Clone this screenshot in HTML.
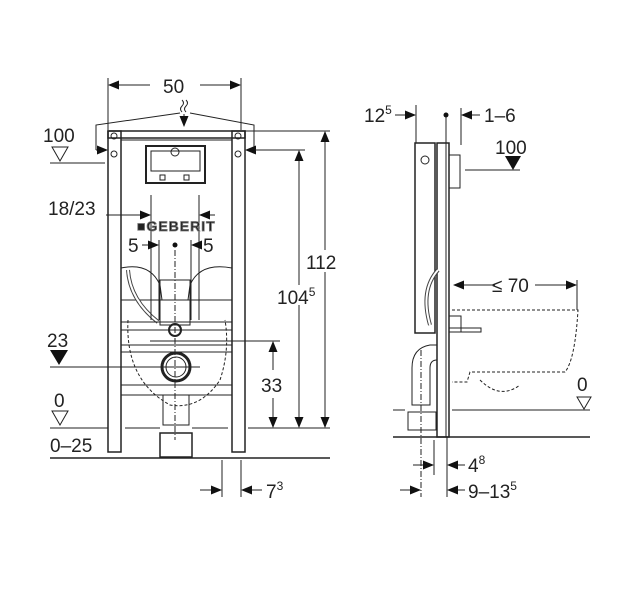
<!DOCTYPE html>
<html><head><style>
html,body{margin:0;padding:0;background:#fff;}
svg{display:block;}
text{font-family:"Liberation Sans",sans-serif;fill:#222;}
</style></head><body>
<svg width="620" height="597" viewBox="0 0 620 597" xmlns="http://www.w3.org/2000/svg">
<defs>
<marker id="ar" markerWidth="11" markerHeight="9" refX="10" refY="4.5" orient="auto" markerUnits="userSpaceOnUse"><path d="M0,0 L11,4.5 L0,9z" fill="#111"/></marker>
</defs>
<g stroke="#222" stroke-width="1" fill="none">
<!-- LEFT VIEW -->
<line x1="108" y1="78" x2="108" y2="130"/><line x1="241" y1="78" x2="241" y2="130"/>
<line x1="150" y1="85" x2="109" y2="85" marker-end="url(#ar)"/><line x1="200" y1="85" x2="240" y2="85" marker-end="url(#ar)"/>
<polyline points="96,150 96,125 180,113"/><polyline points="190,113 254,125 254,150"/>
<line x1="96" y1="150" x2="107" y2="150" marker-end="url(#ar)"/>
<line x1="265" y1="150" x2="246" y2="150" marker-end="url(#ar)"/>
<path d="M182,100 q3,3 0,6 q-3,3 0,6 M186,100 q3,3 0,6 q-3,3 0,6"/>
<line x1="184" y1="114" x2="184" y2="126" marker-end="url(#ar)"/>
<polygon points="52,147 68,147 60,161"/>
<line x1="50" y1="163" x2="105" y2="163"/>
<rect x="108" y="131" width="137" height="7" stroke-width="1.5"/>
<rect x="108" y="131" width="13" height="321" stroke-width="1.5"/>
<rect x="232" y="131" width="13" height="321" stroke-width="1.5"/>
<rect x="121" y="140" width="111" height="160"/>
<circle cx="114" cy="136" r="3"/><circle cx="114" cy="154" r="3"/><circle cx="238" cy="136" r="3"/><circle cx="238" cy="154" r="3"/>
<rect x="146" y="146" width="59" height="37" stroke-width="2"/>
<rect x="151" y="151" width="49" height="20"/>
<circle cx="175" cy="152" r="4"/>
<rect x="160" y="175" width="5" height="5"/><rect x="184" y="175" width="5" height="5"/>
<path d="M121,268 Q150,262 160,285 L162,300 M232,268 Q200,262 190,285 L188,300"/>
<path d="M128,270 Q130,300 158,322" stroke-width="4" stroke="#444"/>
<path d="M128,270 Q130,300 158,322" stroke-width="2" stroke="#fff"/>
<rect x="160" y="280" width="30" height="45"/>
<line x1="121" y1="322" x2="232" y2="322"/><line x1="121" y1="330" x2="232" y2="330"/>
<line x1="121" y1="345" x2="232" y2="345"/><line x1="121" y1="352" x2="232" y2="352"/>
<line x1="121" y1="385" x2="232" y2="385"/><line x1="121" y1="395" x2="232" y2="395"/>
<circle cx="175" cy="330" r="6" stroke-width="2"/>
<circle cx="176" cy="367" r="14" stroke-width="3"/><circle cx="176" cy="367" r="10"/>
<path d="M128,320 Q125,380 170,405 Q200,410 220,380 Q230,350 225,320" stroke-dasharray="3,2"/>
<rect x="163" y="395" width="26" height="30"/>
<rect x="160" y="433" width="32" height="24" stroke-width="1.5"/>
<line x1="151" y1="195" x2="151" y2="320"/><line x1="199" y1="195" x2="199" y2="320"/>
<line x1="159" y1="240" x2="159" y2="320"/><line x1="191" y1="240" x2="191" y2="320"/>
<line x1="175" y1="250" x2="175" y2="440" stroke-dasharray="6,2,1,2"/>
<line x1="106" y1="215" x2="150" y2="215" marker-end="url(#ar)"/>
<line x1="215" y1="215" x2="200" y2="215" marker-end="url(#ar)"/>
<line x1="142" y1="245" x2="158" y2="245" marker-end="url(#ar)"/>
<line x1="200" y1="245" x2="192" y2="245" marker-end="url(#ar)"/>
<line x1="150" y1="341" x2="280" y2="341"/>
<line x1="50" y1="367" x2="200" y2="367"/>
<line x1="50" y1="428" x2="108" y2="428"/><line x1="125" y1="428" x2="160" y2="428"/><line x1="192" y1="428" x2="228" y2="428"/><line x1="248" y1="428" x2="330" y2="428"/>
<line x1="50" y1="458" x2="330" y2="458" stroke-width="1.5"/>
<polygon points="52,411 68,411 60,425"/>
<line x1="245" y1="131" x2="330" y2="131"/><line x1="255" y1="150" x2="305" y2="150"/>
<line x1="325" y1="250" x2="325" y2="132" marker-end="url(#ar)"/>
<line x1="299" y1="285" x2="299" y2="151" marker-end="url(#ar)"/>
<line x1="273" y1="370" x2="273" y2="342" marker-end="url(#ar)"/>
<line x1="273" y1="398" x2="273" y2="427" marker-end="url(#ar)"/>
<line x1="299" y1="305" x2="299" y2="427" marker-end="url(#ar)"/>
<line x1="325" y1="272" x2="325" y2="427" marker-end="url(#ar)"/>
<line x1="222" y1="460" x2="222" y2="497"/><line x1="241" y1="460" x2="241" y2="497"/>
<line x1="200" y1="490" x2="221" y2="490" marker-end="url(#ar)"/>
<line x1="262" y1="490" x2="242" y2="490" marker-end="url(#ar)"/>

<!-- RIGHT VIEW -->
<line x1="416" y1="105" x2="416" y2="143"/><line x1="446" y1="115" x2="446" y2="143"/><line x1="461" y1="108" x2="461" y2="145"/>
<line x1="395" y1="115" x2="415" y2="115" marker-end="url(#ar)"/>
<line x1="480" y1="115" x2="462" y2="115" marker-end="url(#ar)"/>
<rect x="415" y="143" width="20" height="190" stroke-width="1.5"/>
<rect x="437" y="143" width="12" height="294" stroke-width="1.5"/>
<line x1="446" y1="143" x2="446" y2="437"/>
<rect x="449" y="155" width="11" height="33"/>
<circle cx="425" cy="160" r="4"/>
<path d="M438,270 Q420,290 430,325" stroke-width="4" stroke="#444"/>
<path d="M438,270 Q420,290 430,325" stroke-width="2" stroke="#fff"/>
<line x1="465" y1="170" x2="520" y2="170"/>
<line x1="577" y1="280" x2="577" y2="310"/>
<line x1="495" y1="285" x2="454" y2="285" marker-end="url(#ar)"/>
<line x1="535" y1="285" x2="576" y2="285" marker-end="url(#ar)"/>
<rect x="449" y="316" width="12" height="16"/>
<rect x="449" y="328" width="32" height="4"/>
<path d="M452,310 L578,310 Q575,360 565,372 L470,372 L467,382 L452,382 M480,380 Q500,400 520,385" stroke-dasharray="3,2"/>
<path d="M437,345 L430,345 Q412,348 412,368 L412,405 L430,405 L430,368 Q430,360 437,360"/>
<rect x="408" y="412" width="28" height="18"/>
<line x1="421" y1="350" x2="421" y2="497" stroke-dasharray="6,2,1,2"/>
<line x1="393" y1="410" x2="405" y2="410"/><line x1="452" y1="410" x2="590" y2="410"/>
<line x1="393" y1="437" x2="590" y2="437" stroke-width="1.5"/>
<polygon points="577,397 591,397 584,409"/>
<line x1="434" y1="440" x2="434" y2="475"/><line x1="447" y1="437" x2="447" y2="497"/>
<line x1="413" y1="465" x2="433" y2="465" marker-end="url(#ar)"/>
<line x1="465" y1="465" x2="448" y2="465" marker-end="url(#ar)"/>
<line x1="400" y1="490" x2="420" y2="490" marker-end="url(#ar)"/>
<line x1="465" y1="490" x2="448" y2="490" marker-end="url(#ar)"/>
</g>
<g fill="#111">
<circle cx="175" cy="245" r="2.5"/><circle cx="446" cy="115" r="2.5"/>
<polygon points="50,350 68,350 59,365"/>
<polygon points="505,156 521,156 513,170"/>
</g>
<g font-size="19">
<text x="163" y="93">50</text>
<text x="43" y="142">100</text>
<text x="48" y="215">18/23</text>
<text x="128" y="252">5</text>
<text x="203" y="252">5</text>
<text x="306" y="269">112</text>
<text x="277" y="304">104<tspan font-size="12" dy="-8">5</tspan></text>
<text x="47" y="347">23</text>
<text x="261" y="392">33</text>
<text x="54" y="407">0</text>
<text x="50" y="452">0–25</text>
<text x="266" y="498">7<tspan font-size="12" dy="-8">3</tspan></text>
<text x="364" y="122">12<tspan font-size="12" dy="-8">5</tspan></text>
<text x="484" y="122">1–6</text>
<text x="495" y="154">100</text>
<text x="492" y="292">≤ 70</text>
<text x="577" y="391">0</text>
<text x="468" y="472">4<tspan font-size="12" dy="-8">8</tspan></text>
<text x="468" y="498">9–13<tspan font-size="12" dy="-8">5</tspan></text>
</g>
<text x="137" y="231" font-size="14" font-weight="bold" fill="#fff" stroke="#777" stroke-width="0.8" letter-spacing="1">■GEBERIT</text>
</svg>
</body></html>
